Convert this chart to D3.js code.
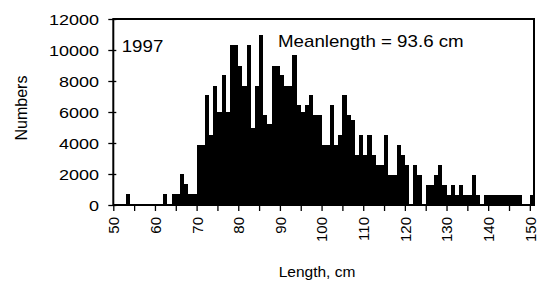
<!DOCTYPE html>
<html>
<head>
<meta charset="utf-8">
<script src="https://cdn.jsdelivr.net/npm/d3@7"></script>
<style>
  body { margin: 0; background: #fff; }
  text { font-family: "Liberation Sans", Arial, sans-serif; fill: #000; }
</style>
</head>
<body>
<div id="chart"></div>
<script>
var svgWidth = 543;
var svgHeight = 283;

// length classes, 1 cm each, 50..150
var lengths = d3.range(50, 151);
// numbers per length class
var numbers = [
    0, 0, 0, 700, 0, 0, 0, 0, 0, 0,              // 50-59
    0, 0, 700, 0, 700, 700, 2000, 1350, 700, 700, // 60-69
    3900, 3900, 7100, 4500, 7700, 6000, 8400, 6000, 10300, 10300, // 70-79
    9000, 7700, 10300, 5000, 7700, 11000, 5800, 5200, 9000, 9000, // 80-89
    8400, 7700, 7700, 9700, 6450, 6000, 6450, 7100, 5800, 5800,   // 90-99
    3900, 3900, 6450, 3900, 4500, 7100, 5800, 5500, 3200, 4500,   // 100-109
    3200, 4500, 3200, 2600, 2600, 4500, 1950, 1950, 3850, 3200,   // 110-119
    2600, 0, 2600, 1950, 0, 1300, 1300, 1950, 2600, 1300,        // 120-129
    650, 1300, 650, 1300, 650, 650, 1950, 650, 0, 650,           // 130-139
    650, 650, 650, 650, 650, 650, 650, 650, 0, 0,                // 140-149
    650                                                          // 150
];
var yTicks = [0, 2000, 4000, 6000, 8000, 10000, 12000];
var xTicks = d3.range(50, 151, 5);
var yearLabel = "1997";
var meanLabel = "Meanlength = 93.6 cm";

var data = lengths.map((l, i) => ({ length: l, n: numbers[i] }));

var margin = { top: 19, right: 9, bottom: 78, left: 113.3 };
var width = svgWidth - margin.left - margin.right;
var height = svgHeight - margin.top - margin.bottom;

var svg = d3.select("#chart")
    .append("svg")
    .attr("width", svgWidth)
    .attr("height", svgHeight);

var chartGroup = svg.append("g")
    .attr("transform", `translate(${margin.left}, ${margin.top})`);

var xScale = d3.scaleLinear()
    .domain([50, 151])
    .range([0, width]);
var yScale = d3.scaleLinear()
    .domain([0, 12000])
    .range([height, 0]);

// bars
chartGroup.selectAll(".bar")
    .data(data)
    .join("rect")
    .attr("class", "bar")
    .attr("x", d => xScale(d.length))
    .attr("width", d => xScale(d.length + 1) - xScale(d.length))
    .attr("y", d => yScale(d.n))
    .attr("height", d => height - yScale(d.n))
    .attr("fill", "#000")
    .attr("shape-rendering", "crispEdges");

// frame
chartGroup.append("rect")
    .attr("x", 0)
    .attr("y", 0)
    .attr("width", width)
    .attr("height", height)
    .attr("fill", "none")
    .attr("stroke", "#000")
    .attr("stroke-width", 2);

// y axis
var yAxis = d3.axisLeft(yScale)
    .tickValues(yTicks)
    .tickSize(5)
    .tickPadding(0)
    .tickFormat(d3.format("d"));
var yG = chartGroup.append("g").call(yAxis);
yG.select(".domain").remove();
yG.selectAll(".tick line").attr("x1", 3).attr("stroke-width", 1.3);
yG.selectAll(".tick text")
    .attr("x", -11.9)
    .attr("dy", "0.36em")
    .attr("transform", "scale(1.2,1)")
    .style("font-size", "15px")
    .style("font-family", "'Liberation Sans', Arial, sans-serif");

// x axis
var xAxis = d3.axisBottom(xScale)
    .tickValues(xTicks)
    .tickSize(6)
    .tickFormat(d => d % 10 === 0 ? d : "");
var xG = chartGroup.append("g")
    .attr("transform", `translate(0, ${height})`)
    .call(xAxis);
xG.select(".domain").remove();
xG.selectAll(".tick line").attr("stroke-width", 1.3);
xG.selectAll(".tick text")
    .attr("transform", "rotate(-90)")
    .attr("x", -12)
    .attr("y", 0)
    .attr("dy", "0.36em")
    .style("text-anchor", "end")
    .style("font-size", "15px")
    .style("font-family", "'Liberation Sans', Arial, sans-serif");

// in-plot labels
chartGroup.append("text")
    .attr("transform", `translate(${121.7 - margin.left}, ${52 - margin.top}) scale(1.17,1)`)
    .style("font-size", "16px")
    .text(yearLabel);

chartGroup.append("text")
    .attr("transform", `translate(${278 - margin.left}, ${46.5 - margin.top}) scale(1.17,1)`)
    .style("font-size", "16px")
    .text(meanLabel);

// axis titles
svg.append("text")
    .attr("transform", "translate(27, 108) rotate(-90)")
    .style("text-anchor", "middle")
    .style("font-size", "16px")
    .text("Numbers");

svg.append("text")
    .attr("x", 317)
    .attr("y", 277)
    .style("text-anchor", "middle")
    .style("font-size", "15.5px")
    .text("Length, cm");
</script>
</body>
</html>
